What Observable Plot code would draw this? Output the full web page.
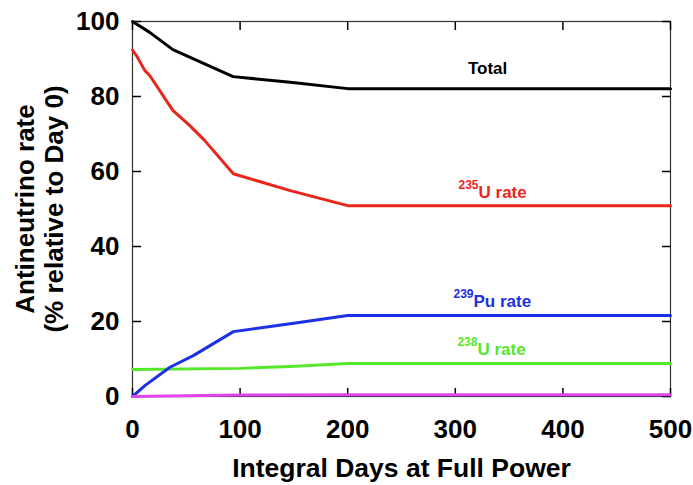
<!DOCTYPE html>
<html><head><meta charset="utf-8">
<script src="https://cdn.jsdelivr.net/npm/d3@7"></script>
<script src="https://cdn.jsdelivr.net/npm/@observablehq/plot@0.6"></script>
<style>
body{margin:0;background:#fff}
svg{font-family:"Liberation Sans",Arial,Helvetica,sans-serif}
</style>
</head><body><div id="chart"></div>
<script>
// ---- data ----
const totalDays   = [0, 16, 37.5, 93.5, 146.6, 200, 500];
const totalValues = [100, 97.1, 92.5, 85.3, 83.8, 82.1, 82.1];

const u235Days   = [0, 3.7, 11.5, 16, 37.5, 53, 67, 93.7, 146.6, 200, 500];
const u235Values = [92.4, 90.9, 86.9, 85.6, 76.3, 72.3, 68.3, 59.4, 54.9, 50.9, 50.9];

const pu239Days   = [0, 11.5, 34.8, 56.5, 93.8, 146.6, 200, 500];
const pu239Values = [0, 2.9, 7.8, 10.9, 17.3, 19.4, 21.6, 21.6];

const u238Days   = [0, 100, 146.6, 200, 500];
const u238Values = [7.2, 7.5, 8.0, 8.8, 8.8];

const otherDays   = [0, 50, 100, 200, 500];
const otherValues = [0, 0.2, 0.4, 0.5, 0.5];

const seriesNames  = ["Total", "235U", "238U", "239Pu", "Other"];
const seriesColors = ["#000000", "#e8261a", "#55e82a", "#1c30e6", "#e044ee"];

const xTicks = [0, 100, 200, 300, 400, 500];
const yTicks = [0, 20, 40, 60, 80, 100];

const xTitle = "Integral Days at Full Power";
const yTitle = "Antineutrino rate\n(% relative to Day 0)";

// labels: superscript part, main part, label position (data units)
const labelSeries = ["235U", "239Pu", "238U"];
const labelSup    = ["235", "239", "238"];
const labelMain   = ["U rate", "Pu rate", "U rate"];
const labelX      = [321.6, 316.9, 320.6];
const labelY      = [54.4, 25.3, 12.5];
const totalLabel  = {text: "Total", x: 330, y: 87.5};

// ---- build tables ----
const allSeries = [
  {name: "Total", days: totalDays, values: totalValues},
  {name: "235U", days: u235Days, values: u235Values},
  {name: "238U", days: u238Days, values: u238Values},
  {name: "239Pu", days: pu239Days, values: pu239Values},
  {name: "Other", days: otherDays, values: otherValues}
];
const rows = allSeries.flatMap(s => s.days.map((d, i) => ({series: s.name, day: d, value: s.values[i]})));
const labels = labelSeries.map((s, i) => ({series: s, sup: labelSup[i], main: labelMain[i], x: labelX[i], y: labelY[i]}));

const chart = Plot.plot({
  width: 693, height: 485,
  marginLeft: 132, marginRight: 23, marginTop: 21, marginBottom: 89,
  style: {fontFamily: '"Liberation Sans",Arial,Helvetica,sans-serif', background: "#fff", color: "#000"},
  x: {domain: [0, 500]},
  y: {domain: [0, 100]},
  color: {domain: seriesNames, range: seriesColors},
  marks: [
    Plot.frame({stroke: "#333", strokeWidth: 1.2}),
    Plot.axisX(xTicks, {anchor: "bottom", tickSize: -8, tickPadding: 31, fontSize: 26, fontWeight: "bold", strokeWidth: 1.5, label: null}),
    Plot.axisX(xTicks, {anchor: "top", tickSize: -8, tickFormat: () => "", strokeWidth: 1.5, label: null}),
    Plot.axisY(yTicks, {anchor: "left", tickSize: -9, tickPadding: 22, fontSize: 26, fontWeight: "bold", strokeWidth: 1.5, label: null}),
    Plot.axisY(yTicks, {anchor: "right", tickSize: -9, tickFormat: () => "", strokeWidth: 1.5, label: null}),
    Plot.line(rows, {x: "day", y: "value", z: "series", stroke: "series", strokeWidth: 3}),
    Plot.text([totalLabel], {x: "x", y: "y", text: "text", fontSize: 17, fontWeight: "bold", fill: "#000", textAnchor: "middle"}),
    Plot.text(labels, {x: "x", y: "y", text: "main", fill: "series", fontSize: 17, fontWeight: "bold", textAnchor: "start"}),
    Plot.text(labels, {x: "x", y: "y", text: "sup", fill: "series", fontSize: 12, fontWeight: "bold", textAnchor: "end", dy: -7.5}),
    Plot.text([xTitle], {frameAnchor: "bottom", dy: 72, fontSize: 26.5, fontWeight: "bold", lineAnchor: "middle", fill: "#000"}),
    Plot.text([yTitle], {frameAnchor: "left", dx: -93, rotate: -90, textAnchor: "middle", lineAnchor: "middle", lineHeight: 1.08, fontSize: 26, fontWeight: "bold", fill: "#000"})
  ]
});
document.getElementById("chart").append(chart);
</script>
</body></html>
